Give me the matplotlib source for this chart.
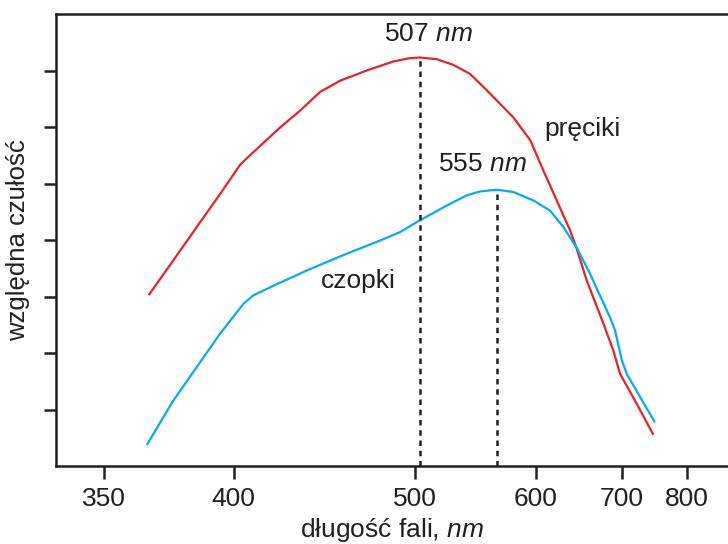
import numpy as np
import matplotlib
matplotlib.use("Agg")
import matplotlib.pyplot as plt

plt.rcParams['font.family'] = ['Liberation Sans', 'DejaVu Sans']
plt.rcParams['mathtext.fontset'] = 'custom'
plt.rcParams['mathtext.rm'] = 'Liberation Sans'
plt.rcParams['mathtext.it'] = 'Liberation Sans:italic'

# Data (wavelength in nm, relative sensitivity in tick units)
rods_wl = [366.0, 375.1, 384.4, 394.1, 402.9, 407.4, 421.6, 431.7, 442.2, 453.3,
           468.9, 485.6, 496.7, 503.6, 515.6, 528.0, 541.2, 555.1, 578.6, 594.5,
           607.7, 636.2, 643.8, 655.4, 675.7, 688.5, 697.4, 720.5, 744.2]
rods_val = [3.04, 3.64, 4.23, 4.81, 5.33, 5.50, 5.99, 6.29, 6.62, 6.82,
            7.00, 7.16, 7.22, 7.23, 7.20, 7.10, 6.94, 6.65, 6.17, 5.77,
            5.23, 4.17, 3.84, 3.28, 2.52, 2.04, 1.63, 1.10, 0.57]

cones_wl = [365.3, 375.1, 384.4, 394.1, 404.4, 408.9, 418.4, 435.1, 453.3, 477.1,
            490.0, 503.6, 523.0, 538.6, 549.4, 563.7, 578.6, 597.7, 614.6, 628.8,
            643.8, 659.3, 684.2, 690.7, 699.7, 706.5, 725.3, 746.6]
cones_val = [0.39, 1.16, 1.75, 2.34, 2.87, 3.02, 3.19, 3.46, 3.71, 3.99,
             4.14, 4.35, 4.61, 4.79, 4.86, 4.89, 4.85, 4.70, 4.52, 4.23,
             3.86, 3.40, 2.63, 2.40, 1.87, 1.63, 1.22, 0.79]

peak_rods_wl = 503.6
peak_rods_val = 7.23
peak_cones_wl = 563.7
peak_cones_val = 4.89

x_ticks = [350, 400, 500, 600, 700, 800]
y_ticks = [1, 2, 3, 4, 5, 6, 7]

fig = plt.figure(figsize=(7.28, 5.44), dpi=100)
ax = fig.add_axes([56/728, 78/544, 1 - 56/728, (466-14)/544])

ax.set_xscale('function', functions=(lambda x: -1000.0/np.asarray(x, float),
                                     lambda y: -1000.0/np.asarray(y, float)))
ax.set_xlim(334.5, 880)
ax.set_ylim(0, 8)

red = '#e8222a'
blue = '#00aeef'
ax.plot(rods_wl, rods_val, color=red, lw=1.6, solid_joinstyle='round')
ax.plot(cones_wl, cones_val, color=blue, lw=1.6, solid_joinstyle='round')

ax.plot([peak_rods_wl, peak_rods_wl], [0, peak_rods_val], color='#231f20', lw=1.8,
        dashes=(2.2, 1.9))
ax.plot([peak_cones_wl, peak_cones_wl], [0, peak_cones_val], color='#231f20', lw=1.8,
        dashes=(2.2, 1.9))

fs = 19
ax.text(509.3, 7.65, r'507 $\mathit{nm}$', ha='center', va='center', fontsize=fs, color='#231f20')
ax.text(551.1, 5.35, r'555 $\mathit{nm}$', ha='center', va='center', fontsize=fs, color='#231f20')
ax.text(649.9, 5.96, 'pręciki', ha='center', va='center', fontsize=fs, color='#231f20')
ax.text(463.7, 3.28, 'czopki', ha='center', va='center', fontsize=fs, color='#231f20')

ax.set_xticks(x_ticks)
ax.set_xticklabels([str(t) for t in x_ticks])
ax.xaxis.set_minor_locator(matplotlib.ticker.NullLocator())
ax.set_yticks(y_ticks)
ax.set_yticklabels([])
ax.tick_params(axis='both', direction='out', length=9, width=1.8, color='#231f20',
               labelsize=fs, labelcolor='#231f20', pad=6)

for s in ['left', 'bottom', 'top']:
    ax.spines[s].set_linewidth(1.8)
    ax.spines[s].set_color('#231f20')
ax.spines['right'].set_visible(False)

ax.set_xlabel(r'długość fali, $\mathit{nm}$', fontsize=fs, color='#231f20', labelpad=4)
ax.set_ylabel('względna czułość', fontsize=18.5, color='#231f20', labelpad=4)

fig.savefig('out.png', dpi=100)
